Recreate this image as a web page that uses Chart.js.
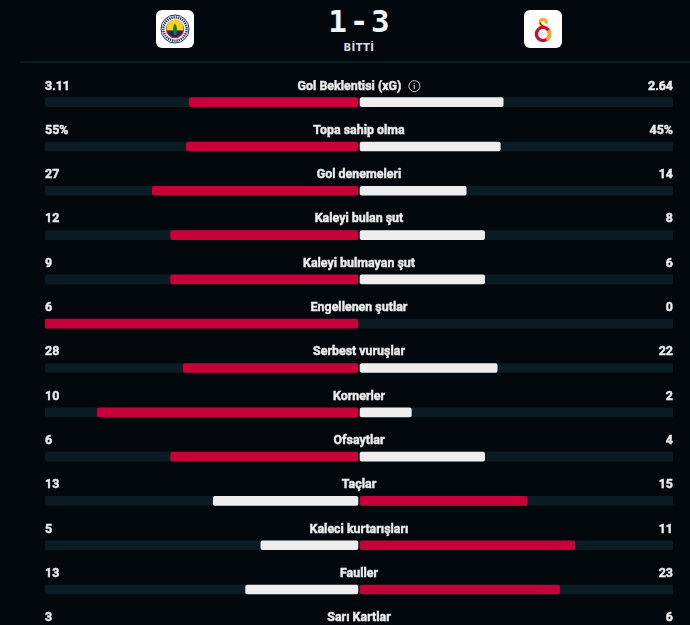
<!DOCTYPE html>
<html>
<head>
<meta charset="utf-8">
<style>
  html, body { margin: 0; padding: 0; background: #03080d; overflow: hidden; }
  body { width: 690px; height: 625px; position: relative; font-family: Roboto, sans-serif; }
  .logo { position: absolute; top: 10px; width: 38px; height: 38px; background: #fff; border-radius: 6px; }
  .logo svg { width: 38px; height: 38px; display: block; }
  #home { left: 156px; }
  #away { left: 524px; }
  #score { position: absolute; top: 4px; left: 0; width: 718px; text-align: center; color: #f2f5fb;
           font: bold 31px/34px 'DejaVu Sans Mono', monospace; word-spacing: -16px; }
  #status { position: absolute; top: 42px; left: 0; width: 718px; text-align: center; color: #d8dce2;
            font: bold 10px 'DejaVu Sans', sans-serif; letter-spacing: 0.4px; }
  #sep { position: absolute; top: 61px; left: 20px; right: 0; height: 2px; background: #0c1a22; }
  #wrap { position: absolute; top: 80px; left: 0; width: 690px; height: 576px; }
</style>
</head>
<body>
<div class="logo" id="home">
  <svg viewBox="0 0 38 38">
    <circle cx="19" cy="19" r="14" fill="#fff" stroke="#1b2a5c" stroke-width="1"/>
    <circle cx="19" cy="19" r="11.6" fill="none" stroke="#1b2a5c" stroke-width="2.4" stroke-dasharray="1.3 0.9"/>
    <circle cx="19" cy="19" r="8.6" fill="#1b2a5c" stroke="#c01c2a" stroke-width="1.2"/>
    <path d="M10.6 18 A8.4 8.4 0 0 1 27.4 18 Z" fill="#f4d21c"/>
    <rect x="10.6" y="18" width="16.8" height="2.4" fill="#f4d21c"/>
    <path d="M19 13.5 C16.2 17 16.2 22.5 19 26 C21.8 22.5 21.8 17 19 13.5 Z" fill="#1e7a3a"/>
  </svg>
</div>
<div id="score">1 - 3</div>
<div id="status">BİTTİ</div>
<div class="logo" id="away">
  <svg viewBox="0 0 38 38">
    <path d="M22.5 12.5 C22 8.5 16 8.5 16 12.5 C16 15 19 16 20.5 17.5" fill="none" stroke="#f5a81f" stroke-width="2.8" stroke-linecap="round"/>
    <path d="M16 12.5 C16 15 19 16 20.5 17.5" fill="none" stroke="#c8102e" stroke-width="1.4"/>
    <circle cx="19" cy="24" r="6.6" fill="none" stroke="#c8102e" stroke-width="3.4"/>
    <path d="M24.4 20.2 A6.6 6.6 0 0 1 22.5 29.6" fill="none" stroke="#f5a81f" stroke-width="3.4"/>
    <rect x="15.5" y="22.6" width="7" height="2.8" fill="#e9e9e9"/>
  </svg>
</div>
<div id="sep"></div>
<div id="wrap"><canvas id="stats"></canvas></div>

<script src="https://cdn.jsdelivr.net/npm/chart.js@4"></script>
<script>
  const statNames = [
    'Gol Beklentisi (xG)', 'Topa sahip olma', 'Gol denemeleri', 'Kaleyi bulan şut',
    'Kaleyi bulmayan şut', 'Engellenen şutlar', 'Serbest vuruşlar', 'Kornerler',
    'Ofsaytlar', 'Taçlar', 'Kaleci kurtarışları', 'Fauller', 'Sarı Kartlar'
  ];
  const homeValues = [3.11, 55, 27, 12, 9, 6, 28, 10, 6, 13, 5, 13, 3];
  const awayValues = [2.64, 45, 14, 8, 6, 0, 22, 2, 4, 15, 11, 23, 6];
  const homeLabels = ['3.11', '55%', '27', '12', '9', '6', '28', '10', '6', '13', '5', '13', '3'];
  const awayLabels = ['2.64', '45%', '14', '8', '6', '0', '22', '2', '4', '15', '11', '23', '6'];

  const RED = '#c8003a';
  const WHITE = '#eeeeee';
  const TRACK = '#0b1c24';
  const GAP = 0.0035; // about 1px each side of the centre

  const share = (a, b) => (a + b === 0 ? 0 : a / (a + b));

  const homeBars = homeValues.map((v, i) => {
    const s = share(v, awayValues[i]);
    return s > 0 ? [-s, -GAP] : null;
  });
  const awayBars = awayValues.map((v, i) => {
    const s = share(v, homeValues[i]);
    return s > 0 ? [GAP, s] : null;
  });

  // the larger side of each stat is red, the smaller one white
  const homeColor = (ctx) => (homeValues[ctx.dataIndex] >= awayValues[ctx.dataIndex] ? RED : WHITE);
  const awayColor = (ctx) => (awayValues[ctx.dataIndex] > homeValues[ctx.dataIndex] ? RED : WHITE);

  const FONT = 'bold 13.5px Roboto, sans-serif';
  const SX = 0.92; // the site uses a condensed face, squeeze Roboto to match

  function squeezed(ctx, text, x, y, align) {
    ctx.save();
    ctx.translate(x, y);
    ctx.scale(SX, 1);
    ctx.textAlign = align;
    ctx.strokeText(text, 0, 0); // thin outline makes it read as heavy as the original
    ctx.fillText(text, 0, 0);
    ctx.restore();
  }

  const statLabels = {
    id: 'statLabels',
    afterDatasetsDraw(chart) {
      const { ctx, chartArea, scales } = chart;
      const mid = (chartArea.left + chartArea.right) / 2;
      ctx.save();
      ctx.fillStyle = '#ececec';
      ctx.strokeStyle = '#ececec';
      ctx.lineWidth = 0.45;
      ctx.font = FONT;
      ctx.textBaseline = 'middle';
      statNames.forEach((name, i) => {
        const y = scales.y.getPixelForValue(i) - 16;
        squeezed(ctx, homeLabels[i], chartArea.left, y, 'left');
        squeezed(ctx, awayLabels[i], chartArea.right, y, 'right');

        if (i === 0) {
          // label plus the info icon, centred as one group
          const w = ctx.measureText(name).width * SX;
          const total = w + 19;
          const x0 = mid - total / 2;
          squeezed(ctx, name, x0, y, 'left');
          const cx = x0 + w + 13;
          ctx.save();
          ctx.strokeStyle = '#d0d0d0';
          ctx.lineWidth = 1;
          ctx.beginPath();
          ctx.arc(cx, y, 5.5, 0, Math.PI * 2);
          ctx.stroke();
          ctx.fillStyle = '#d0d0d0';
          ctx.font = 'bold 8px Roboto, sans-serif';
          ctx.textAlign = 'center';
          ctx.fillText('i', cx, y + 0.5);
          ctx.restore();
        } else {
          squeezed(ctx, name, mid, y, 'center');
        }
      });
      ctx.restore();
    }
  };

  new Chart(document.getElementById('stats'), {
    type: 'bar',
    data: {
      labels: statNames,
      datasets: [
        { data: homeBars, backgroundColor: homeColor, grouped: false, barThickness: 9,
          borderRadius: 2, borderSkipped: false },
        { data: awayBars, backgroundColor: awayColor, grouped: false, barThickness: 9,
          borderRadius: 2, borderSkipped: false },
        { data: statNames.map(() => [-1, 1]), backgroundColor: TRACK, grouped: false, barThickness: 9,
          borderRadius: 2, borderSkipped: false }
      ]
    },
    options: {
      indexAxis: 'y',
      responsive: true,
      maintainAspectRatio: false,
      animation: false,
      layout: { padding: { left: 45, right: 17, top: 0, bottom: 0 } },
      scales: {
        x: { min: -1, max: 1, display: false },
        y: { display: false }
      },
      plugins: {
        legend: { display: false },
        tooltip: { enabled: false }
      }
    },
    plugins: [statLabels]
  });
</script>
</body>
</html>
